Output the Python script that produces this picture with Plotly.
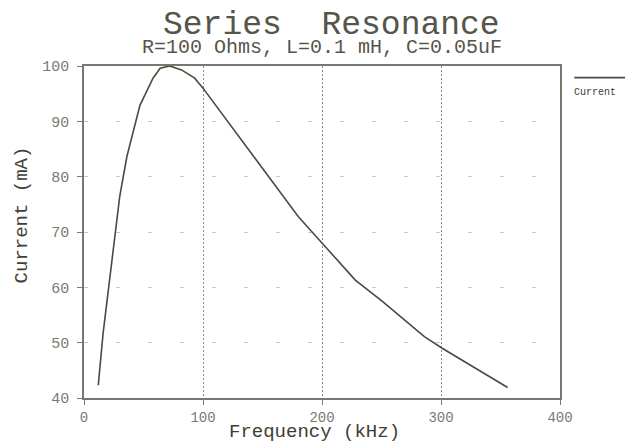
import plotly.graph_objects as go

# Data
freq_khz = [12, 16, 30, 36, 47, 58, 64, 72, 82, 93, 100, 120, 150, 180, 203, 228, 251, 276, 286, 301, 356]
current_ma = [42.3, 51.6, 76.4, 83.6, 92.9, 97.8, 99.6, 100.0, 99.3, 97.8, 96.0, 90.2, 81.5, 72.8, 67.3, 61.3, 57.4, 52.9, 51.1, 49.0, 41.9]

x_ticks = [0, 100, 200, 300, 400]
y_ticks = [40, 50, 60, 70, 80, 90, 100]

title_text = "Series  Resonance"
subtitle_text = "R=100 Ohms, L=0.1 mH, C=0.05uF"
x_title = "Frequency (kHz)"
y_title = "Current (mA)"
series_name = "Current"

FONT = "Liberation Mono, Courier New, monospace"
LINE_COLOR = "#4a4a3e"
TEXT_COLOR = "#55554a"
DARK_TEXT = "#3e3e34"
TICK_COLOR = "#7a7a72"

fig = go.Figure()
fig.add_trace(go.Scatter(
    x=freq_khz, y=current_ma, mode="lines", name=series_name,
    line=dict(color=LINE_COLOR, width=1.6), showlegend=False,
))

# the page body adds an 8px offset, so the figure is 8px smaller
fig.update_layout(
    width=625, height=435,
    margin=dict(l=76, r=73, t=58, b=45, autoexpand=False),
    paper_bgcolor="white", plot_bgcolor="white",
    font=dict(family=FONT, color=TEXT_COLOR),
)

fig.update_xaxes(
    range=[0, 400], tickvals=x_ticks, ticktext=[str(v) for v in x_ticks],
    showline=True, linecolor="#77776f", linewidth=1.5, mirror=True,
    ticks="outside", ticklen=5, tickcolor=TICK_COLOR,
    tickfont=dict(family=FONT, size=14, color=TICK_COLOR),
    showgrid=True, gridcolor="#8a8a86", gridwidth=1, griddash="2px,2px",
    zeroline=False, automargin=False,
)
fig.update_yaxes(
    range=[40, 100], tickvals=y_ticks, ticktext=[str(v) for v in y_ticks],
    showline=True, linecolor="#77776f", linewidth=1.5, mirror=True,
    ticks="outside", ticklen=5, tickcolor=TICK_COLOR, ticklabelstandoff=5,
    tickfont=dict(family=FONT, size=15, color=TICK_COLOR),
    showgrid=True, gridcolor="#c8c8c4", gridwidth=1, griddash="4px,28px",
    zeroline=False, automargin=False,
)

# Title and subtitle
fig.add_annotation(text=title_text, xref="paper", yref="paper", x=0.52, y=1.0,
                   yshift=41, xanchor="center", yanchor="middle", showarrow=False,
                   font=dict(family=FONT, size=33, color=TEXT_COLOR))
fig.add_annotation(text=subtitle_text, xref="paper", yref="paper", x=0.5, y=1.0,
                   yshift=19, xanchor="center", yanchor="middle", showarrow=False,
                   font=dict(family=FONT, size=20, color=TEXT_COLOR))

# Axis titles
fig.add_annotation(text=x_title, xref="paper", yref="paper", x=0.485, y=0.0,
                   yshift=-34, xanchor="center", yanchor="middle", showarrow=False,
                   font=dict(family=FONT, size=19, color=DARK_TEXT))
fig.add_annotation(text=y_title, xref="paper", yref="paper", x=0.0, y=0.55,
                   xshift=-62, xanchor="center", yanchor="middle", showarrow=False,
                   textangle=-90, font=dict(family=FONT, size=19, color=DARK_TEXT))

# Legend drawn to the right of the plot (line above label)
fig.add_shape(type="line", xref="paper", yref="paper",
              x0=1.03, x1=1.14, y0=0.965, y1=0.965,
              line=dict(color=LINE_COLOR, width=1.6))
fig.add_annotation(text=series_name, xref="paper", yref="paper", x=1.025, y=0.92,
                   xanchor="left", yanchor="middle", showarrow=False,
                   font=dict(family=FONT, size=10, color=DARK_TEXT))

fig.write_html("out.html")
